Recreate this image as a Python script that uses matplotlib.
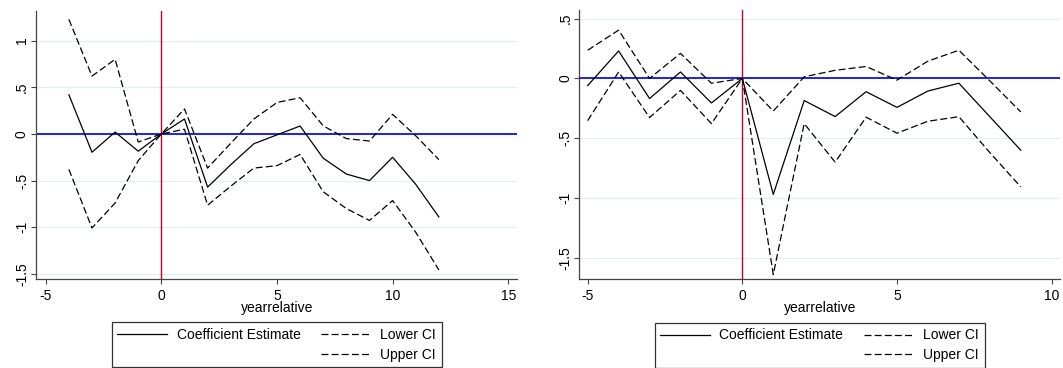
"""Event-study coefficient plots with confidence bands, two specifications side by side."""

import matplotlib

matplotlib.use("Agg")
import matplotlib.pyplot as plt
from matplotlib.lines import Line2D

# Left specification: years relative to event
years_a = [-4, -3, -2, -1, 0, 1, 2, 3, 4, 5, 6, 7, 8, 9, 10, 11, 12]
coef_a = [0.42, -0.196, 0.02, -0.185, 0.0, 0.16, -0.57, -0.33, -0.105, -0.01, 0.085,
          -0.26, -0.43, -0.50, -0.25, -0.54, -0.89]
lower_a = [-0.38, -1.008, -0.74, -0.286, 0.0, 0.05, -0.764, -0.56, -0.366, -0.34, -0.22,
           -0.62, -0.80, -0.927, -0.714, -1.054, -1.457]
upper_a = [1.228, 0.62, 0.80, -0.087, 0.0, 0.268, -0.366, -0.10, 0.16, 0.337, 0.388,
           0.087, -0.05, -0.076, 0.21, -0.02, -0.275]

# Right specification
years_b = [-5, -4, -3, -2, -1, 0, 1, 2, 3, 4, 5, 6, 7, 8, 9]
coef_b = [-0.06, 0.23, -0.168, 0.054, -0.205, 0.0, -0.97, -0.185, -0.319, -0.111,
          -0.242, -0.105, -0.04, -0.32, -0.60]
lower_b = [-0.353, 0.054, -0.327, -0.10, -0.378, 0.0, -1.64, -0.378, -0.70, -0.324,
           -0.458, -0.358, -0.32, -0.62, -0.907]
upper_b = [0.236, 0.404, 0.0, 0.21, -0.04, 0.0, -0.273, 0.014, 0.068, 0.10,
           -0.014, 0.145, 0.236, -0.02, -0.28]

yticks_a = [-1.5, -1, -0.5, 0, 0.5, 1]
ytick_labels_a = ["-1.5", "-1", "-.5", "0", ".5", "1"]
yticks_b = [-1.5, -1, -0.5, 0, 0.5]
ytick_labels_b = ["-1.5", "-1", "-.5", "0", ".5"]
xticks_a = [-5, 0, 5, 10, 15]
xticks_b = [-5, 0, 5, 10]

plt.rcParams.update(
    {
        "font.family": ["Liberation Sans", "DejaVu Sans"],
        "font.size": 10,
        "lines.scale_dashes": False,
    }
)

DASH = (5.0, 2.3)
GRID = "#e4eef0"
SPINE = "#444444"


def draw_panel(ax, years, coef, lower, upper, xlim, ylim, xticks, yticks, ylabels):
    for y in yticks:
        ax.axhline(y, color=GRID, lw=0.9, zorder=0)
    ax.axhline(0, color="#1010f0", lw=1.3, zorder=1)
    ax.axvline(0, color="#c40030", lw=1.0, zorder=1)
    ax.plot(years, coef, color="black", lw=0.9, zorder=3)
    ax.plot(years, lower, color="black", lw=0.9, dashes=DASH, zorder=3)
    ax.plot(years, upper, color="black", lw=0.9, dashes=DASH, zorder=3)

    ax.set_xlim(*xlim)
    ax.set_ylim(*ylim)
    ax.set_xticks(xticks)
    ax.set_xticklabels([str(t) for t in xticks])
    ax.set_yticks(yticks)
    ax.set_yticklabels(ylabels, rotation=90, va="center")
    ax.set_xlabel("yearrelative", labelpad=-1.5)

    for side in ("top", "right"):
        ax.spines[side].set_visible(False)
    for side in ("left", "bottom"):
        ax.spines[side].set_color(SPINE)
        ax.spines[side].set_linewidth(0.9)
    ax.tick_params(axis="x", length=3.6, width=0.8, color=SPINE, pad=3.5)
    ax.tick_params(axis="y", length=3.6, width=0.8, color=SPINE, pad=1.5)

    handles = [
        Line2D([], [], color="black", lw=0.9),
        Line2D([], [], color="none"),
        Line2D([], [], color="black", lw=0.9, dashes=DASH),
        Line2D([], [], color="black", lw=0.9, dashes=DASH),
    ]
    labels = ["Coefficient Estimate", "", "Lower CI", "Upper CI"]
    leg = ax.legend(
        handles,
        labels,
        ncol=2,
        loc="upper center",
        bbox_to_anchor=(0.5, -0.162),
        borderaxespad=0,
        frameon=True,
        fancybox=False,
        edgecolor="black",
        handlelength=3.6,
        handletextpad=0.65,
        columnspacing=1.5,
        labelspacing=0.38,
        borderpad=0.42,
    )
    leg.get_frame().set_linewidth(0.9)


fig = plt.figure(figsize=(10.63, 3.68), dpi=100)
ax_a = fig.add_axes([0.0339, 0.2418, 0.4529, 0.7289])
ax_b = fig.add_axes([0.5450, 0.2418, 0.4522, 0.7305])

draw_panel(ax_a, years_a, coef_a, lower_a, upper_a, (-5.42, 15.4), (-1.555, 1.32),
           xticks_a, yticks_a, ytick_labels_a)
draw_panel(ax_b, years_b, coef_b, lower_b, upper_b, (-5.27, 10.27), (-1.678, 0.571),
           xticks_b, yticks_b, ytick_labels_b)

fig.savefig("out.png", dpi=100)
